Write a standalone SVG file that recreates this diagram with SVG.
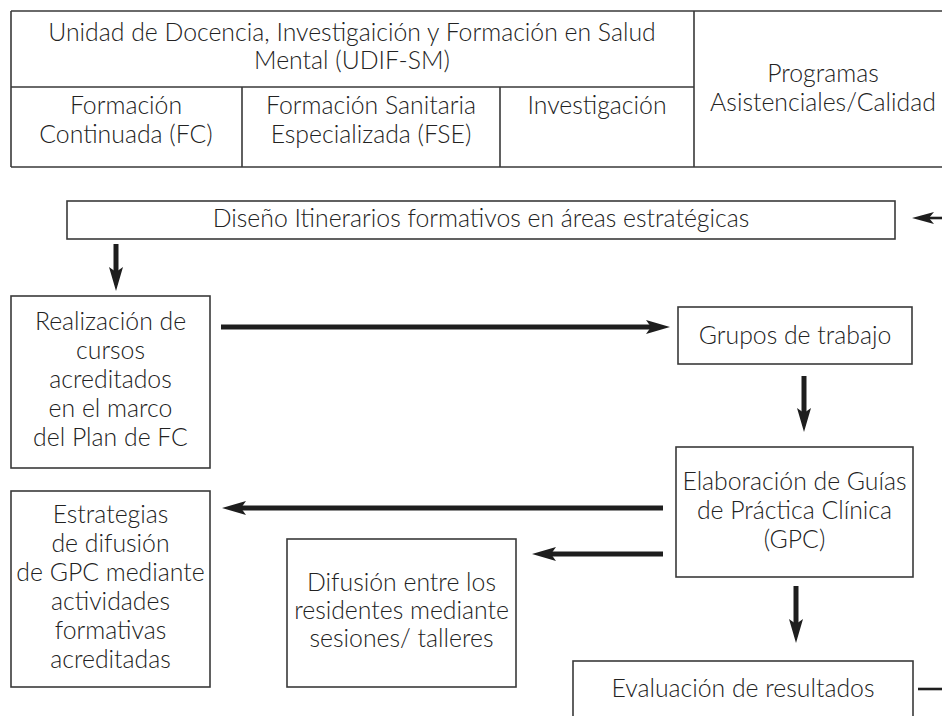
<svg xmlns="http://www.w3.org/2000/svg" width="942" height="716" viewBox="0 0 942 716">
<defs>
<style>
.box{fill:#fff;stroke:#3a3a3a;stroke-width:1.6}
.t{font-family:Lato,"Noto Sans","Liberation Sans",sans-serif;font-weight:300;font-size:24.8px;fill:#222;text-anchor:middle}
.c{stroke:#1e1e1e;stroke-width:5;fill:none}
.c2{stroke:#1e1e1e;stroke-width:2.6;fill:none}
</style>
<marker id="ah" viewBox="0 0 24 14" refX="9" refY="7" markerWidth="24" markerHeight="14" markerUnits="userSpaceOnUse" orient="auto">
<path d="M0,0 L24,7 L0,14 L5,7 Z" fill="#1e1e1e"/>
</marker>
<marker id="ah2" viewBox="0 0 22 12" refX="12" refY="6" markerWidth="22" markerHeight="12" markerUnits="userSpaceOnUse" orient="auto">
<path d="M0,0 L22,6 L0,12 L5,6 Z" fill="#1e1e1e"/>
</marker>
</defs>
<rect width="942" height="716" fill="#fff"/>

<g id="table">
<path d="M11,11 H942 M11,167 H942 M11,11 V167 M11,87 H694 M694,11 V167 M242,87 V167 M500,87 V167" class="box" fill="none"/>
</g>
<g id="udif">
<text class="t" x="352" y="41">Unidad de Docencia, Investigaición y Formación en Salud</text>
<text class="t" x="352" y="69">Mental (UDIF-SM)</text>
</g>
<g id="fc">
<text class="t" x="126" y="114">Formación</text>
<text class="t" x="126" y="143">Continuada (FC)</text>
</g>
<g id="fse">
<text class="t" x="371" y="114">Formación Sanitaria</text>
<text class="t" x="371" y="143">Especializada (FSE)</text>
</g>
<g id="investigacion">
<text class="t" x="597" y="114">Investigación</text>
</g>
<g id="programas">
<text class="t" x="823" y="82">Programas</text>
<text class="t" x="823" y="111">Asistenciales/Calidad</text>
</g>

<g id="diseno">
<rect class="box" x="67" y="201" width="828" height="38"/>
<text class="t" x="481" y="227">Diseño Itinerarios formativos en áreas estratégicas</text>
</g>
<g id="realizacion">
<rect class="box" x="11" y="296" width="199" height="172"/>
<text class="t" x="110.5" y="330">Realización de</text>
<text class="t" x="110.5" y="359">cursos</text>
<text class="t" x="110.5" y="388">acreditados</text>
<text class="t" x="110.5" y="417">en el marco</text>
<text class="t" x="110.5" y="446">del Plan de FC</text>
</g>
<g id="grupos">
<rect class="box" x="678" y="307" width="234" height="57"/>
<text class="t" x="795" y="344">Grupos de trabajo</text>
</g>
<g id="gpc">
<rect class="box" x="676" y="447" width="237" height="130"/>
<text class="t" x="794.5" y="490">Elaboración de Guías</text>
<text class="t" x="794.5" y="519">de Práctica Clínica</text>
<text class="t" x="794.5" y="548">(GPC)</text>
</g>
<g id="estrategias">
<rect class="box" x="11" y="491" width="199" height="196"/>
<text class="t" x="110.5" y="523">Estrategias</text>
<text class="t" x="110.5" y="552">de difusión</text>
<text class="t" x="110.5" y="581">de GPC mediante</text>
<text class="t" x="110.5" y="610">actividades</text>
<text class="t" x="110.5" y="639">formativas</text>
<text class="t" x="110.5" y="668">acreditadas</text>
</g>
<g id="difusion">
<rect class="box" x="287" y="539" width="229" height="148"/>
<text class="t" x="401.5" y="591">Difusión entre los</text>
<text class="t" x="401.5" y="619">residentes mediante</text>
<text class="t" x="401.5" y="647">sesiones/ talleres</text>
</g>
<g id="evaluacion">
<rect class="box" x="573" y="661" width="340" height="70"/>
<text class="t" x="743" y="697">Evaluación de resultados</text>
</g>

<g id="connectors">
<line class="c2" x1="942" y1="218" x2="922" y2="218" marker-end="url(#ah2)"/>
<line class="c" x1="116" y1="244" x2="116" y2="276" marker-end="url(#ah)"/>
<line class="c" x1="221" y1="327" x2="655" y2="327" marker-end="url(#ah)"/>
<line class="c" x1="804" y1="376" x2="804" y2="417" marker-end="url(#ah)"/>
<line class="c" x1="663" y1="508" x2="237" y2="508" marker-end="url(#ah)"/>
<line class="c" x1="663" y1="554" x2="547" y2="554" marker-end="url(#ah)"/>
<line class="c" x1="796" y1="586" x2="796" y2="628" marker-end="url(#ah)"/>
<line class="c2" x1="918" y1="689" x2="942" y2="689"/>
</g>
</svg>
